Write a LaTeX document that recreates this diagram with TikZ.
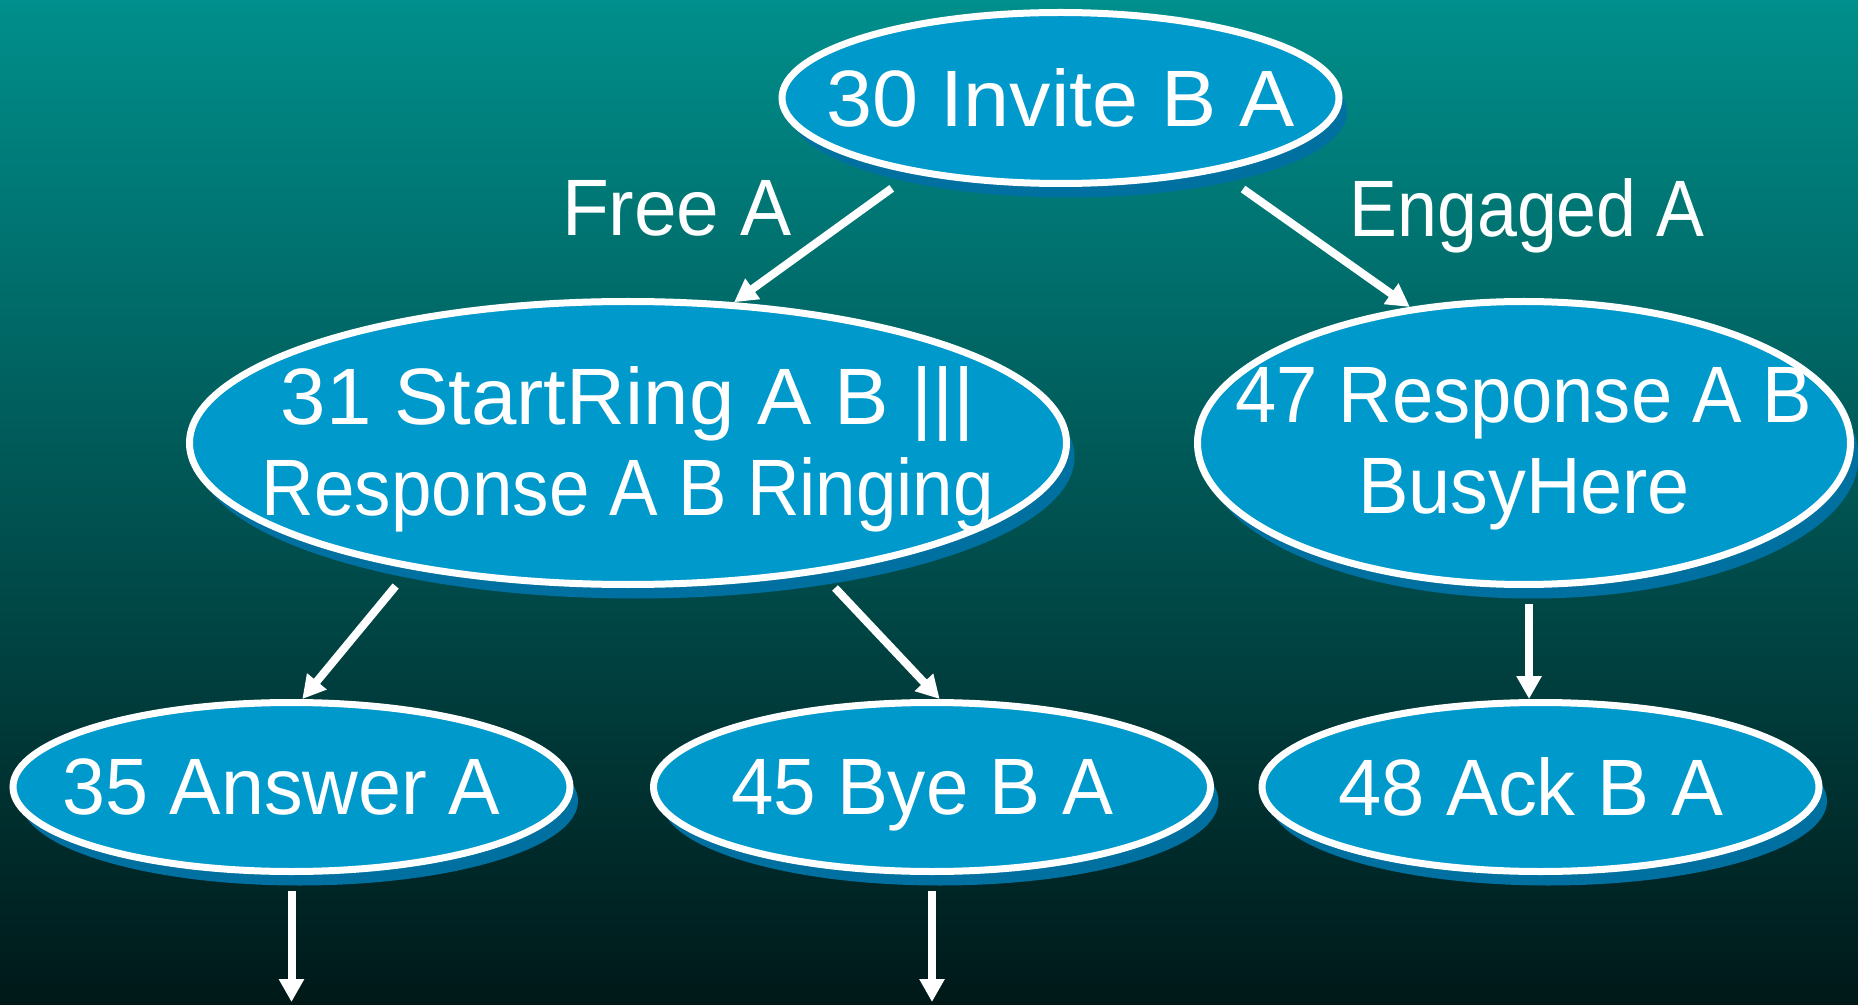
\documentclass[tikz,border=0pt]{standalone}
\usepackage{fontspec}
\usepackage{graphicx}
\setmainfont{Liberation Sans}
\usetikzlibrary{shapes.geometric,arrows.meta,shadows}
\definecolor{bgtop}{RGB}{0,143,140}
\definecolor{bgbot}{RGB}{0,24,24}
\definecolor{statefill}{RGB}{0,153,204}
\definecolor{stateshadow}{RGB}{0,112,160}
% set a line of text to a given width, keeping its height
\newcommand\fitto[2]{\resizebox{#1}{\height}{#2}}

\begin{document}
\begin{tikzpicture}[x=0.5pt,y=-0.5pt,
  state/.style={ellipse, draw=white, line width=3.5pt, fill=statefill, inner sep=0pt,
    drop shadow={shadow xshift=4pt, shadow yshift=-7pt, fill=stateshadow, opacity=1}},
  small state/.style={state, minimum width=278.5pt, minimum height=84.5pt},
  big state/.style={state, minimum height=141.5pt},
  txt/.style={text=white, font=\fontsize{40}{45.5}\selectfont, inner sep=0pt},
  oneline/.style={txt, text depth=0pt},
  twoline/.style={txt, align=center},
  flow/.style={draw=white, line width=4pt, -{Triangle[width=12pt,length=11.5pt]}},
]
% background
\shade[top color=bgtop, bottom color=bgbot] (0,0) rectangle (1858,1005);
\useasboundingbox (0,0) rectangle (1858,1005);

% states
\node[small state, minimum height=85.5pt] (n30) at (1060.5,98) {};
\node[big state, minimum width=438.5pt] (n31) at (628,443) {};
\node[big state, minimum width=326.5pt] (n47) at (1524,443) {};
\node[small state] (n35) at (291.5,787) {};
\node[small state] (n45) at (932,787) {};
\node[small state] (n48) at (1540.5,787) {};

% state texts
\node[oneline] (t30) at (n30) {\fitto{234.5pt}{30 Invite B A}};
\node[twoline, yshift=-3pt] (t31) at (n31)
  {\fitto{347pt}{31 StartRing A B |||}\\\fitto{366pt}{Response A B Ringing}};
\node[twoline, yshift=-3pt] (t47) at (n47)
  {\fitto{288.5pt}{47 Response A B}\\\fitto{166pt}{BusyHere}};
\node[oneline, xshift=-5pt] (t35) at (n35) {\fitto{219pt}{35 Answer A}};
\node[oneline, xshift=-5pt] (t45) at (n45) {\fitto{191pt}{45 Bye B A}};
\node[oneline, xshift=-5pt] (t48) at (n48) {\fitto{192.5pt}{48 Ack B A}};

% transitions
\draw[flow, shorten <=12.5pt] (n30.207) -- (n31.53);
\draw[flow, shorten <=15pt] (n30.-25) -- (n47.130);
\draw[flow, shorten <=11pt] (n31.210) -- (n35.83);
\draw[flow, shorten <=10pt] (n31.-34) -- (n45.85);
\draw[flow, shorten <=8pt] (n47.-88) -- (n47.-88 |- n48.north);
\coordinate (out35) at (291.5,1002);
\coordinate (out45) at (932,1002);
\draw[flow, shorten <=8pt] (n35.south) -- (out35);
\draw[flow, shorten <=8pt] (n45.south) -- (out45);

% transition labels
\node[oneline] (free) at (677,208) {\fitto{115pt}{Free A}};
\node[oneline] (engaged) at (1527,208) {\fitto{177.5pt}{Engaged A}};
\end{tikzpicture}
\end{document}
